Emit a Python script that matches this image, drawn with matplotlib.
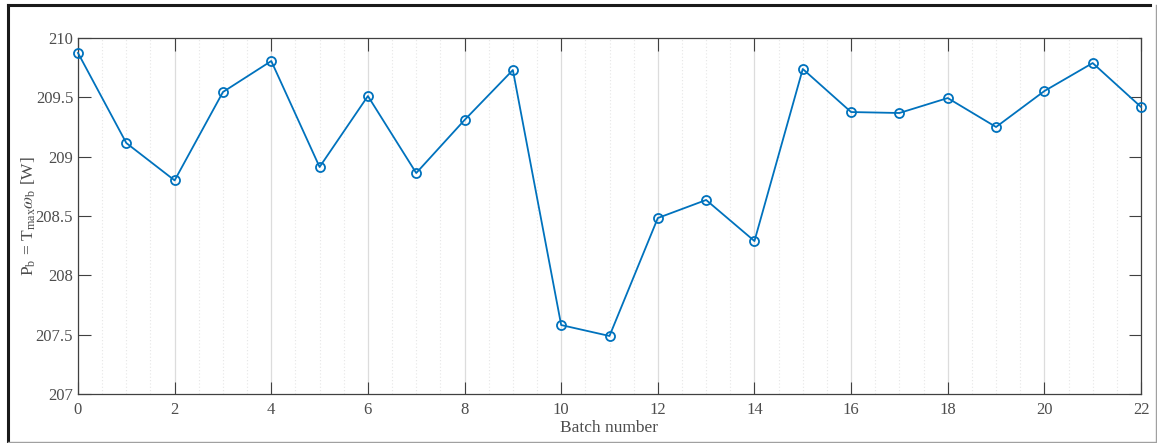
import matplotlib
matplotlib.use("Agg")
import matplotlib.pyplot as plt
from matplotlib.lines import Line2D
from matplotlib.ticker import MultipleLocator

plt.rcParams["font.family"] = ["Liberation Serif", "DejaVu Serif"]
plt.rcParams["mathtext.fontset"] = "stix"

batch = list(range(23))
power = [209.874, 209.115, 208.800, 209.545, 209.806, 208.913, 209.511, 208.862,
         209.309, 209.730, 207.581, 207.489, 208.483, 208.635, 208.289, 209.739,
         209.376, 209.368, 209.494, 209.250, 209.553, 209.789, 209.419]
yticks = [207, 207.5, 208, 208.5, 209, 209.5, 210]
ytick_labels = ["207", "207.5", "208", "208.5", "209", "209.5", "210"]

fig = plt.figure(figsize=(11.57, 4.43), dpi=100)
ax = fig.add_axes([78 / 1157, 1 - 394 / 443, (1141 - 78) / 1157, (394 - 38) / 443])

ax.plot(batch, power, color="#0072BD", lw=1.3, marker="o", ms=6.5,
        mfc="none", mec="#0072BD", mew=1.3, zorder=3, clip_on=False)

ax.set_xlim(0, 22)
ax.set_ylim(207, 210)
ax.xaxis.set_major_locator(MultipleLocator(2))
ax.xaxis.set_minor_locator(MultipleLocator(0.5))
ax.set_yticks(yticks)
ax.set_yticklabels(ytick_labels)

ax.grid(axis="x", which="major", color="#dcdcdc", lw=0.9)
ax.grid(axis="x", which="minor", color="#e6e6e6", lw=0.8, ls=(0, (1, 2)))
ax.set_axisbelow(True)

ax.tick_params(which="both", direction="in", top=True, right=True,
               colors="#404040", labelcolor="#4d4d4d", labelsize=12)
ax.tick_params(which="major", length=9, width=0.8)
ax.tick_params(which="minor", length=0)
ax.tick_params(axis="x", pad=6)
for s in ax.spines.values():
    s.set_color("#404040")
    s.set_linewidth(0.9)

ax.set_xlabel("Batch number", fontsize=12.5, color="#4d4d4d", labelpad=1)
ax.set_ylabel(r"P$_\mathregular{b}$ = T$_\mathregular{max}$$\omega_\mathregular{b}$ [W]",
              fontsize=12.5, color="#4d4d4d", labelpad=0)
ax.yaxis.set_label_coords(-40 / 1063, 0.5)

# outer frame around the figure
fig.add_artist(Line2D([8 / 1157, 1150 / 1157], [1 - 5 / 443] * 2, color="#1a1a1a", lw=2.2))
fig.add_artist(Line2D([8 / 1157] * 2, [1 - 5 / 443, 1 - 441.5 / 443], color="#1a1a1a", lw=2.2))
fig.add_artist(Line2D([8 / 1157, 1156 / 1157], [1 - 441.5 / 443] * 2, color="#a0a0a0", lw=1))
fig.add_artist(Line2D([1155.5 / 1157] * 2, [1 - 5 / 443, 1 - 441.5 / 443], color="#a0a0a0", lw=1))

fig.savefig("out.png", dpi=100)
